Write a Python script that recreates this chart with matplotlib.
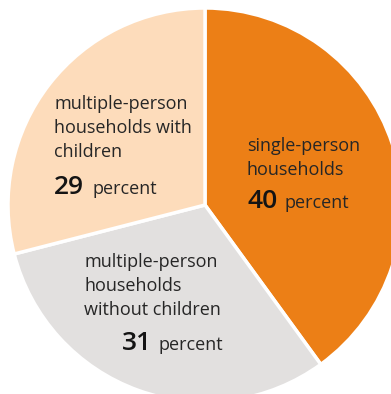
import matplotlib.pyplot as plt

# data
categories = ["single-person households",
              "multiple-person households without children",
              "multiple-person households with children"]
label_lines = [["single-person", "households"],
               ["multiple-person", "households", "without children"],
               ["multiple-person", "households with", "children"]]
values = [40, 31, 29]
colors = ["#EC7F16", "#E2E0DF", "#FDDCBB"]

W, H = 391, 394
fig = plt.figure(figsize=(W / 100, H / 100), dpi=100)
ax = fig.add_axes([0, 0, 1, 1])

cx, cy, r = 205, H - 205, 197
ax.pie(values, colors=colors, startangle=90, counterclock=False,
       center=(cx, cy), radius=r, frame=True,
       wedgeprops=dict(edgecolor="white", linewidth=2.5))
ax.set_xlim(0, W)
ax.set_ylim(0, H)
ax.set_aspect("equal")
ax.axis("off")

# label layout: (x of text, first baseline, x of number, x of "percent", number baseline)
layout = [(247, 151, 247, 284, 208),
          (84, 267, 122, 158, 350),
          (54, 109, 54, 92, 194)]
txt = "#262626"
font = "Open Sans"
for lines, v, (x, y0, xn, xp, yn) in zip(label_lines, values, layout):
    for i, line in enumerate(lines):
        ax.text(x, H - (y0 + 24 * i), line, fontsize=13, family=font,
                color=txt, va="baseline", ha="left")
    ax.text(xn, H - yn, str(v), fontsize=19, family=font, color="#141414",
            fontweight="semibold", va="baseline", ha="left")
    ax.text(xp, H - yn, "percent", fontsize=13, family=font, color=txt,
            va="baseline", ha="left")

fig.savefig("out.png", dpi=100)
